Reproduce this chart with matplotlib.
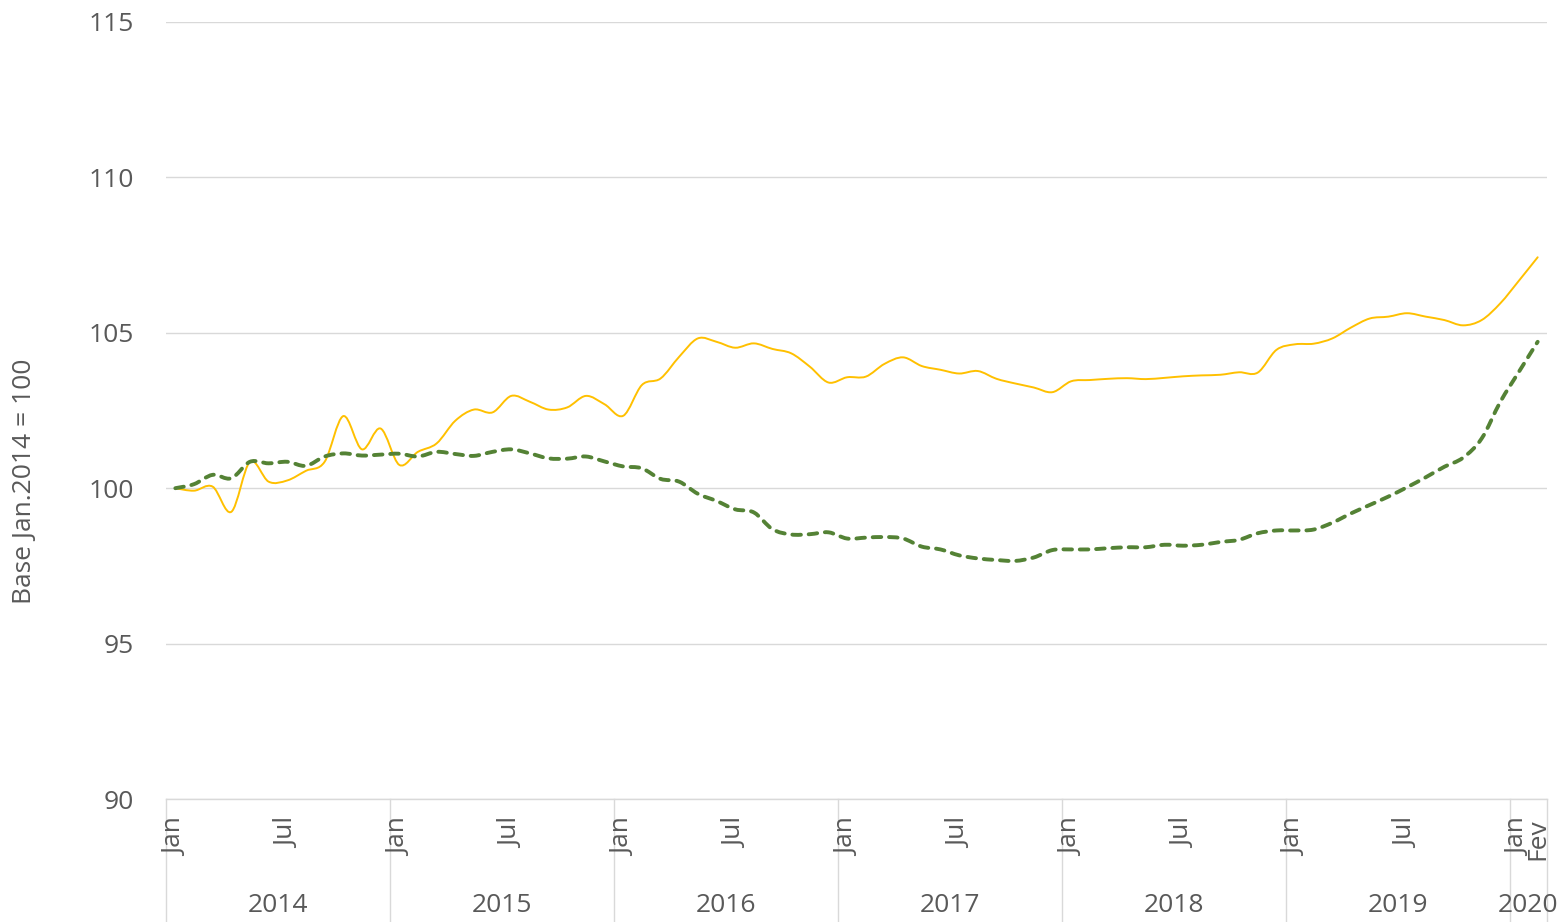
import matplotlib
matplotlib.use("Agg")
import matplotlib.pyplot as plt
import matplotlib.transforms as mtransforms
from matplotlib.path import Path
from matplotlib.patches import PathPatch
import numpy as np

plt.rcParams['font.family'] = ['Open Sans', 'DejaVu Sans']

# ---------------- data ----------------
years = ["2014", "2015", "2016", "2017", "2018", "2019", "2020"]
months_per_year = [12, 12, 12, 12, 12, 12, 2]
month_labels = {0: "Jan", 6: "Jul", 12: "Jan", 18: "Jul", 24: "Jan", 30: "Jul",
                36: "Jan", 42: "Jul", 48: "Jan", 54: "Jul", 60: "Jan", 66: "Jul",
                72: "Jan", 73: "Fev"}

series_yellow = [
    100.00, 99.92, 100.05, 99.24, 100.85, 100.21, 100.25, 100.56, 100.85, 102.32, 101.25, 101.92,
    100.75, 101.17, 101.44, 102.17, 102.53, 102.44, 102.97, 102.78, 102.53, 102.60, 102.97, 102.70,
    102.33, 103.32, 103.53, 104.23, 104.82, 104.71, 104.52, 104.66, 104.48, 104.34, 103.91, 103.40,
    103.57, 103.59, 104.00, 104.21, 103.93, 103.81, 103.69, 103.77, 103.52, 103.37, 103.24, 103.09,
    103.44, 103.48, 103.52, 103.54, 103.51, 103.55, 103.60, 103.63, 103.65, 103.73, 103.72, 104.45,
    104.63, 104.65, 104.82, 105.17, 105.46, 105.52, 105.63, 105.52, 105.41, 105.24, 105.41, 105.95,
    106.68, 107.43,
]

series_green = [
    100.00, 100.13, 100.43, 100.32, 100.85, 100.80, 100.85, 100.72, 101.02, 101.12, 101.05, 101.08,
    101.11, 101.02, 101.17, 101.10, 101.04, 101.17, 101.25, 101.12, 100.96, 100.95, 101.02, 100.86,
    100.70, 100.64, 100.30, 100.21, 99.82, 99.59, 99.32, 99.22, 98.68, 98.51, 98.52, 98.58,
    98.38, 98.41, 98.43, 98.38, 98.12, 98.03, 97.84, 97.74, 97.69, 97.66, 97.77, 98.01,
    98.03, 98.03, 98.07, 98.10, 98.10, 98.18, 98.15, 98.18, 98.27, 98.34, 98.55, 98.64,
    98.64, 98.67, 98.89, 99.19, 99.46, 99.73, 100.03, 100.35, 100.69, 100.98, 101.60, 102.78,
    103.75, 104.71,
]

y_ticks = [90, 95, 100, 105, 110, 115]
y_label = "Base Jan.2014 = 100"

# ---------------- helpers ----------------
def smooth_path(xs, ys):
    """Bezier path (Catmull-Rom style) through the points, like Excel's smoothed lines."""
    pts = np.column_stack([xs, ys]).astype(float)
    n = len(pts)
    verts = [pts[0]]
    codes = [Path.MOVETO]
    for i in range(n - 1):
        p0 = pts[i - 1] if i > 0 else pts[i]
        p1 = pts[i]
        p2 = pts[i + 1]
        p3 = pts[i + 2] if i + 2 < n else pts[i + 1]
        c1 = p1 + (p2 - p0) / 6.0
        c2 = p2 - (p3 - p1) / 6.0
        verts += [c1, c2, p2]
        codes += [Path.CURVE4] * 3
    return Path(verts, codes)

# ---------------- figure ----------------
fig = plt.figure(figsize=(15.64, 9.22), dpi=100)
ax = fig.add_axes([166 / 1564, 1 - 799 / 922, (1547 - 166) / 1564, (799 - 22) / 922])

x = np.arange(len(series_yellow))
grid_col = "#D9D9D9"
text_col = "#595959"

ax.add_patch(PathPatch(smooth_path(x, series_yellow), fill=False,
                       edgecolor="#FFC000", linewidth=1.4, capstyle="round",
                       joinstyle="round", zorder=3))
ax.add_patch(PathPatch(smooth_path(x, series_green), fill=False,
                       edgecolor="#548235", linewidth=2.8,
                       linestyle=(0, (2.2, 2.0)), capstyle="round",
                       joinstyle="round", zorder=4))

ax.set_xlim(-0.5, len(x) - 0.5)
ax.set_ylim(90, 115)
ax.set_yticks(y_ticks)
ax.set_yticklabels([str(t) for t in y_ticks], fontsize=19, color=text_col)
ax.tick_params(axis="y", length=0, pad=23)
ax.set_xticks([])
ax.grid(axis="y", color=grid_col, linewidth=1)
ax.set_axisbelow(True)
for s in ["top", "right", "left"]:
    ax.spines[s].set_visible(False)
ax.spines["bottom"].set_color(grid_col)
ax.spines["bottom"].set_linewidth(1)

fig.text(25 / 1564, 1 - 481 / 922, y_label, rotation=90, ha="center", va="center",
         fontsize=19, color=text_col)

# multi-level category axis
trans = mtransforms.blended_transform_factory(ax.transData, ax.transAxes)
ax_h_px = 799 - 22
def ypx(px_below):
    return -px_below / ax_h_px

for idx, lab in month_labels.items():
    ax.text(idx, ypx(19), lab, transform=trans, rotation=90, ha="center", va="top",
            fontsize=19, color=text_col)

bounds = np.concatenate([[0], np.cumsum(months_per_year)]) - 0.5
for b in bounds:
    ax.plot([b, b], [0, ypx(123)], transform=trans, color=grid_col, linewidth=1,
            clip_on=False)
for yr, a, b in zip(years, bounds[:-1], bounds[1:]):
    ax.text((a + b) / 2, ypx(106), yr, transform=trans, ha="center", va="center",
            fontsize=19, color=text_col)

fig.savefig("out.png", dpi=100, facecolor="white")
